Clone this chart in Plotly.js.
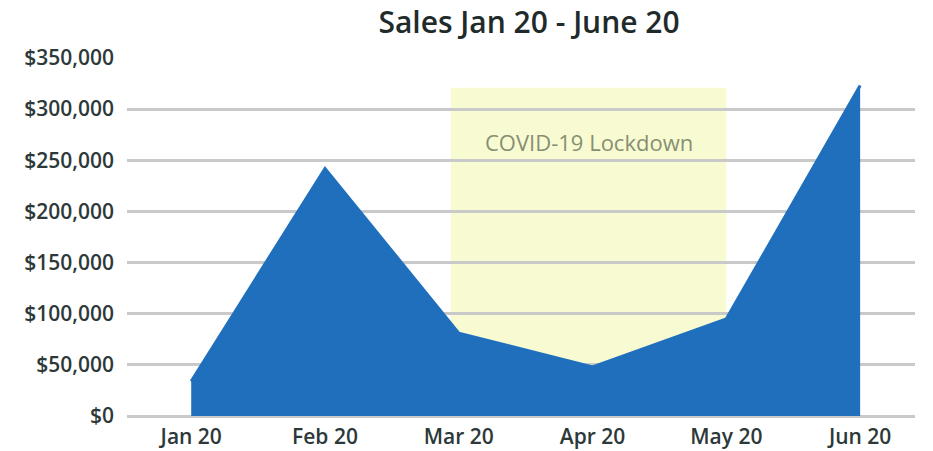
<!DOCTYPE html>
<html>
<head>
<meta charset="utf-8">
<script src="https://cdn.plot.ly/plotly-3.0.1.min.js"></script>
<style>html,body{margin:0;padding:0;background:#fff;}#chart{width:933px;height:451px;}</style>
</head>
<body>
<div id="chart"></div>
<script>
const months = ["Jan 20", "Feb 20", "Mar 20", "Apr 20", "May 20", "Jun 20"];
const sales = [34000, 242000, 81000, 48000, 95000, 323000];
const yTickVals = [0, 50000, 100000, 150000, 200000, 250000, 300000, 350000];
const yTickText = ["$0", "$50,000", "$100,000", "$150,000", "$200,000", "$250,000", "$300,000", "$350,000"];
const lockdownLabel = "COVID-19 Lockdown";

const xIdx = months.map((m, i) => i);

const trace = {
  x: xIdx,
  y: sales,
  type: "scatter",
  mode: "lines",
  fill: "tozeroy",
  fillcolor: "#1f6fbd",
  line: {color: "#1f6fbd", width: 3, shape: "linear"},
  hoverinfo: "skip"
};

const layout = {
  width: 933, height: 451,
  margin: {l: 127, r: 18, t: 58, b: 35},
  paper_bgcolor: "#ffffff",
  plot_bgcolor: "#ffffff",
  showlegend: false,
  font: {family: "'Open Sans', sans-serif", color: "#2d3939"},
  title: {
    text: "Sales Jan 20 - June 20",
    xref: "container", x: 0.567, xanchor: "center", y: 0.95, yanchor: "middle",
    font: {family: "'Open Sans', sans-serif", size: 30, color: "#1f2b2b", weight: 600}
  },
  xaxis: {
    range: [-0.48, 5.41],
    tickvals: xIdx,
    ticktext: months,
    showgrid: false,
    zeroline: false,
    showline: false,
    ticks: "",
    ticklen: 0,
    ticklabelstandoff: 6,
    tickfont: {size: 21, color: "#2d3939", weight: 600},
    fixedrange: true
  },
  yaxis: {
    range: [0, 350000],
    tickvals: yTickVals,
    ticktext: yTickText,
    showgrid: true,
    gridcolor: "#c9c9c9",
    gridwidth: 3,
    zeroline: true,
    zerolinecolor: "#c9c9c9",
    zerolinewidth: 3,
    showline: false,
    ticks: "",
    ticklabelstandoff: 12,
    tickfont: {size: 21, color: "#2d3939", weight: 600},
    fixedrange: true
  },
  shapes: [{
    type: "rect", xref: "x", yref: "y",
    x0: 1.94, x1: 4.0, y0: 0, y1: 321000,
    fillcolor: "#f8fbd2", line: {width: 0}, layer: "below"
  }],
  annotations: [{
    xref: "x", yref: "y", x: 2.97, y: 268000,
    text: lockdownLabel, showarrow: false,
    font: {size: 22, color: "#878f72", family: "'Open Sans', sans-serif"}
  }]
};

Plotly.newPlot("chart", [trace], layout, {displayModeBar: false, staticPlot: true});
</script>
</body>
</html>
